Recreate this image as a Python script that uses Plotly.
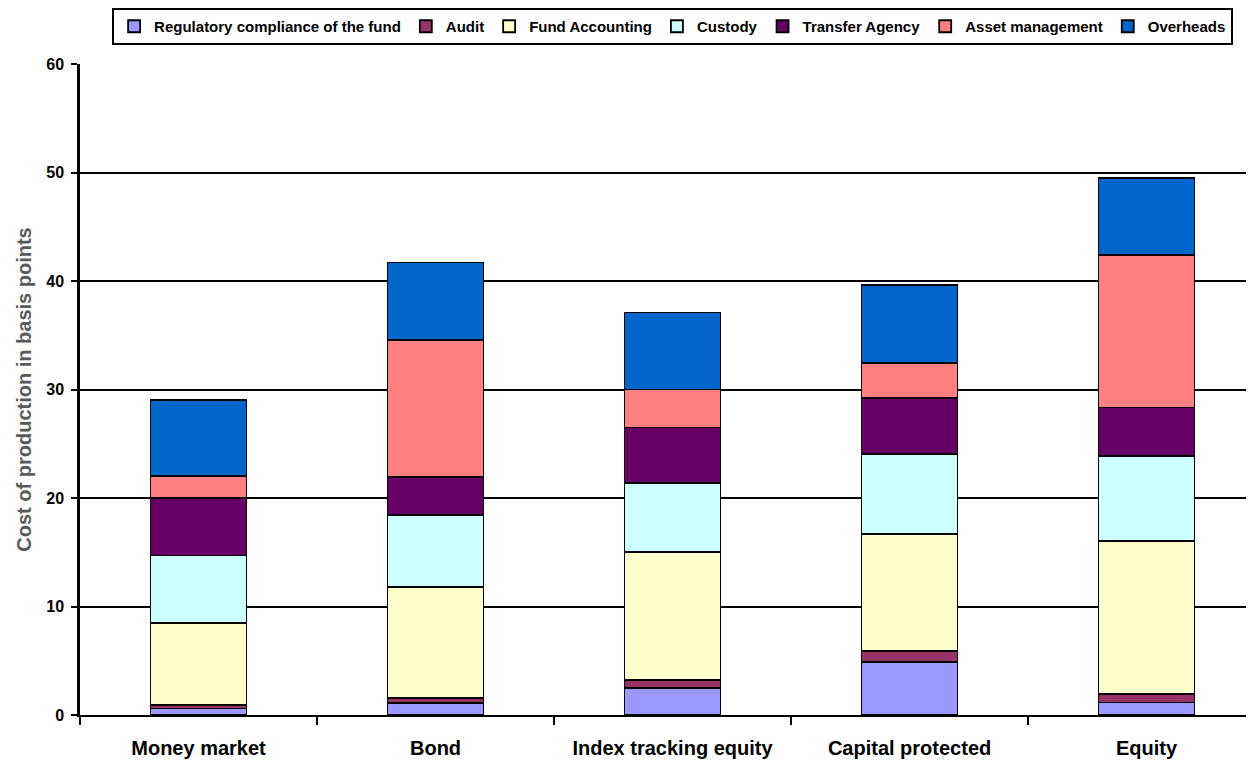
import plotly.graph_objects as go

categories = ["Money market", "Bond", "Index tracking equity", "Capital protected", "Equity"]

series_names = [
    "Regulatory compliance of the fund",
    "Audit",
    "Fund Accounting",
    "Custody",
    "Transfer Agency",
    "Asset management",
    "Overheads",
]

regulatory = [0.6, 1.1, 2.5, 4.85, 1.15]
audit = [0.3, 0.5, 0.7, 1.05, 0.75]
fund_accounting = [7.6, 10.2, 11.85, 10.8, 14.15]
custody = [6.2, 6.6, 6.3, 7.35, 7.8]
transfer_agency = [5.3, 3.5, 5.15, 5.15, 4.5]
asset_management = [2.0, 12.65, 3.5, 3.25, 14.05]
overheads = [7.05, 7.15, 7.1, 7.15, 7.1]

series_values = [regulatory, audit, fund_accounting, custody, transfer_agency, asset_management, overheads]
colors = ["#9999FF", "#993366", "#FFFFCC", "#CCFFFF", "#660066", "#FF8080", "#0066CC"]

y_ticks = [0, 10, 20, 30, 40, 50, 60]

fig = go.Figure()
for name, vals, col in zip(series_names, series_values, colors):
    fig.add_trace(go.Bar(
        x=categories, y=vals, name=name,
        marker=dict(color=col, line=dict(color="black", width=1.8)),
    ))

fig.update_layout(
    barmode="stack",
    bargap=0.595,
    width=1254, height=763,
    margin=dict(l=72, r=0, t=56, b=56),
    paper_bgcolor="white",
    plot_bgcolor="white",
    font=dict(family="Liberation Sans, Arial", color="black"),
    legend=dict(
        orientation="h",
        x=0.53, xanchor="center", xref="container",
        y=1.0, yanchor="top", yref="container",
        font=dict(size=15, weight="bold"),
        bordercolor="black", borderwidth=2,
        bgcolor="white",
        traceorder="normal",
        itemwidth=30,
        tracegroupgap=0,
    ),
    showlegend=True,
)

fig.update_xaxes(
    range=[-0.5, 4.487],
    showline=True, linecolor="black", linewidth=2,
    ticks="outside", tickson="boundaries", ticklen=8, tickwidth=1.8, tickcolor="black",
    tickfont=dict(size=20, weight="bold", color="black"),
    ticklabelstandoff=14,
    showgrid=False,
)
fig.update_yaxes(
    range=[0, 60],
    tickvals=y_ticks,
    showline=True, linecolor="black", linewidth=2.5,
    ticks="outside", ticklen=6, tickwidth=1.8, tickcolor="black",
    tickfont=dict(size=16, weight="bold", color="black"),
    ticklabelstandoff=4,
    showgrid=True, gridcolor="black", gridwidth=2,
    zeroline=False,
    title=dict(text="Cost of production in basis points",
               font=dict(size=20, weight="bold", color="#5a5a5a"), standoff=10),
)

fig.write_html("out.html")
